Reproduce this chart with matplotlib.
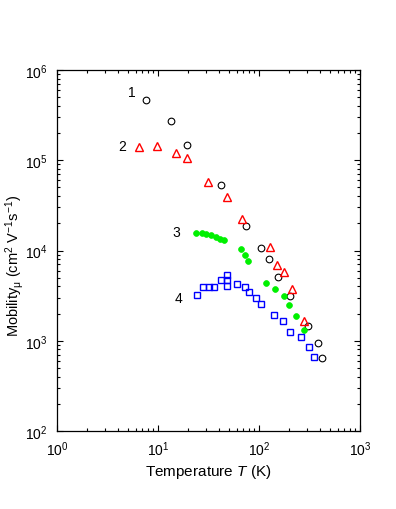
import matplotlib
matplotlib.use("Agg")
import matplotlib.pyplot as plt
from matplotlib.ticker import LogLocator, NullFormatter

plt.rcParams['font.family'] = ['Liberation Sans', 'DejaVu Sans']
plt.rcParams['mathtext.fontset'] = 'custom'
plt.rcParams['mathtext.rm'] = 'Liberation Sans'
plt.rcParams['mathtext.it'] = 'Liberation Sans:italic'
plt.rcParams['mathtext.default'] = 'rm'

# Series 1: black open circles
T1 = [7.66, 13.4, 19.2, 42.3, 74.9, 105, 126, 155, 204, 308, 381, 424]
mu1 = [469000, 272000, 146000, 53600, 18500, 10700, 7990, 5050, 3160, 1445, 951, 640]

# Series 2: red open triangles
T2 = [6.44, 9.71, 15.0, 19.5, 31.5, 48.5, 67.9, 129, 152, 178, 214, 279]
mu2 = [141000, 144000, 121000, 107000, 57800, 39500, 22200, 10800, 6960, 5730, 3720, 1670]

# Series 3: green filled points
T3 = [23.6, 27.3, 29.9, 33.5, 37.5, 41.1, 44.7, 65.9, 72.7, 77.8, 117, 144, 176, 198, 232, 279]
mu3 = [15700, 15600, 15100, 15000, 14200, 13500, 13000, 10500, 8990, 7710, 4400, 3745, 3110, 2490, 1880, 1330]

# Series 4: blue open squares
T4 = [24.3, 27.9, 31.8, 35.8, 42.4, 48.2, 48.2, 48.2, 60.5, 72.6, 79.6, 94.0, 104, 142, 172, 203, 261, 315, 350]
mu4 = [3210, 3940, 3940, 3940, 4750, 5400, 4680, 4040, 4250, 3970, 3500, 2980, 2580, 1945, 1670, 1250, 1110, 859, 666]

# Curve labels
label_text = ["1", "2", "3", "4"]
label_T = [5.49, 4.47, 15.0, 16.0]
label_mu = [566000, 143000, 16200, 2980]

fig = plt.figure(figsize=(3.96, 5.10), dpi=100)
ax = fig.add_axes([57/396, 1-432/510, 303/396, 361/510])
ax.set_xscale('log')
ax.set_yscale('log')
ax.set_xlim(1, 1000)
ax.set_ylim(100, 1e6)

ax.plot(T1, mu1, linestyle='none', marker='o', markersize=4.8, markerfacecolor='none',
        markeredgecolor='black', markeredgewidth=0.8)
ax.plot(T2, mu2, linestyle='none', marker='^', markersize=5.6, markerfacecolor='none',
        markeredgecolor='#ff0000', markeredgewidth=1.0)
ax.plot(T3, mu3, linestyle='none', marker='o', markersize=4.2, markerfacecolor='#00f000',
        markeredgecolor='#00f000', markeredgewidth=0.5)
ax.plot(T4, mu4, linestyle='none', marker='s', markersize=4.4, markerfacecolor='none',
        markeredgecolor='#0000ff', markeredgewidth=1.0)

for t, x, y in zip(label_text, label_T, label_mu):
    ax.text(x, y, t, fontsize=10, ha='center', va='center')

ax.xaxis.set_major_locator(LogLocator(base=10, numticks=10))
ax.yaxis.set_major_locator(LogLocator(base=10, numticks=10))
ax.xaxis.set_minor_locator(LogLocator(base=10, subs=range(2, 10), numticks=20))
ax.yaxis.set_minor_locator(LogLocator(base=10, subs=range(2, 10), numticks=20))
ax.xaxis.set_minor_formatter(NullFormatter())
ax.yaxis.set_minor_formatter(NullFormatter())

ax.tick_params(which='both', direction='in', top=True, right=True, labelsize=10, width=0.8)
ax.tick_params(which='major', length=4)
ax.tick_params(which='minor', length=2)
ax.tick_params(axis='x', which='major', pad=6)
ax.tick_params(axis='y', which='major', pad=7)
for s in ax.spines.values():
    s.set_linewidth(0.9)

ax.set_xlabel(r'Temperature $\mathit{T}$ (K)', fontsize=11)
ax.xaxis.set_label_coords(0.5, -0.085)
fig.text(15/396, 1-266/510, r'Mobility$_{\mu}$ (cm$^2$ V$^{-1}$s$^{-1}$)', rotation=90,
         fontsize=10.5, ha='center', va='center')

fig.savefig('out.png', dpi=100)
